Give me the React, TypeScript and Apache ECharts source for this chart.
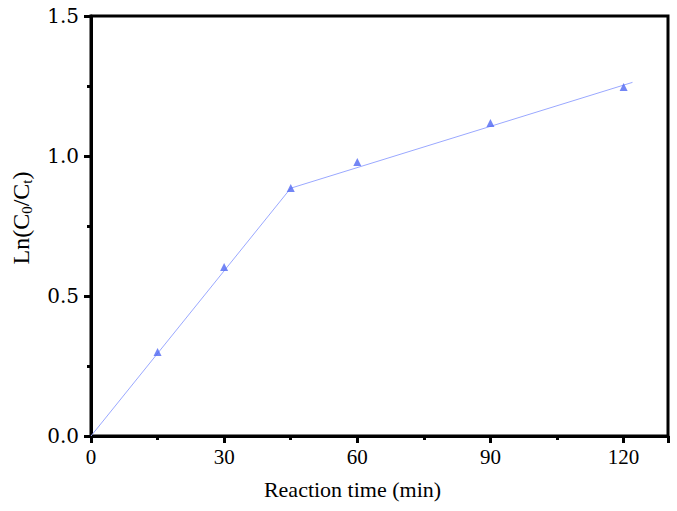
import React, { useEffect, useRef } from "react";
import * as echarts from "echarts";

const times = [15, 30, 45, 60, 90, 120];
const lnValues = [0.3, 0.604, 0.886, 0.979, 1.118, 1.246];
const fitStage1 = [
  [0, 0],
  [45, 0.885],
];
const fitStage2 = [
  [45, 0.885],
  [122, 1.263],
];
const xTicks = [0, 30, 60, 90, 120];
const yTicks = [0, 0.5, 1.0, 1.5];

const serif = "Liberation Serif";

export default function App() {
  const ref = useRef<HTMLDivElement>(null);
  useEffect(() => {
    document.body.style.margin = "0";
    const chart = echarts.init(ref.current!, null, { renderer: "svg" });
    chart.setOption({
      animation: false,
      backgroundColor: "#ffffff",
      grid: {
        left: 91,
        right: 9,
        top: 16,
        bottom: 75,
        show: true,
        borderColor: "#000",
        borderWidth: 3,
        containLabel: false,
      },
      xAxis: {
        type: "value",
        min: 0,
        max: 130,
        interval: 30,
        name: "{n|Reaction time (min)}",
        nameLocation: "middle",
        nameGap: 42,
        nameTextStyle: {
          fontFamily: serif,
          fontSize: 22,
          color: "#000",
          padding: [0, 54, 0, 0],
          rich: { n: { fontFamily: serif, fontSize: 22, color: "#000" } },
        },
        axisLine: { show: true, onZero: false, lineStyle: { color: "#000", width: 3 } },
        axisTick: { show: true, inside: false, length: 7, lineStyle: { color: "#000", width: 3 } },
        minorTick: { show: true, splitNumber: 2, length: 4, lineStyle: { color: "#000", width: 3 } },
        splitLine: { show: false },
        axisLabel: {
          fontFamily: serif,
          fontSize: 21,
          color: "#000",
          margin: 10,
          showMaxLabel: false,
          rich: { t: { fontFamily: serif, fontSize: 21, color: "#000" } },
          formatter: (v: number) => (xTicks.includes(v) ? `{t|${v}}` : ""),
        },
      },
      yAxis: {
        type: "value",
        min: 0,
        max: 1.5,
        interval: 0.5,
        name: "{m|Ln(C}{sub|0}{m|/C}{sub|t}{m|)}",
        nameLocation: "middle",
        nameGap: 57,
        nameRotate: 90,
        nameTextStyle: {
          fontFamily: serif,
          fontSize: 24,
          color: "#000",
          padding: [0, 0, 0, 16],
          rich: {
            m: { fontFamily: serif, fontSize: 24, color: "#000" },
            sub: { fontFamily: serif, fontSize: 15, color: "#000", padding: [11, 0, 0, 0] },
          },
        },
        axisLine: { show: true, onZero: false, lineStyle: { color: "#000", width: 3 } },
        axisTick: { show: true, inside: false, length: 7, lineStyle: { color: "#000", width: 3 } },
        minorTick: { show: true, splitNumber: 2, length: 4, lineStyle: { color: "#000", width: 3 } },
        splitLine: { show: false },
        axisLabel: {
          fontFamily: "DejaVu Serif",
          fontSize: 20,
          color: "#000",
          margin: 12,
          rich: { t: { fontFamily: "DejaVu Serif", fontSize: 20, color: "#000" } },
          formatter: (v: number) =>
            yTicks.some((t) => Math.abs(t - v) < 1e-9) ? `{t|${v.toFixed(1)}}` : "",
        },
      },
      series: [
        {
          type: "line",
          data: fitStage1,
          symbol: "none",
          lineStyle: { color: "#9aa8ff", width: 1 },
          z: 2,
        },
        {
          type: "line",
          data: fitStage2,
          symbol: "none",
          lineStyle: { color: "#9aa8ff", width: 1 },
          z: 2,
        },
        {
          type: "scatter",
          data: times.map((t, i) => [t, lnValues[i]]),
          symbol: "triangle",
          symbolSize: 8,
          itemStyle: { color: "#5068f2" },
          z: 3,
        },
      ],
    });
    return () => chart.dispose();
  }, []);
  return <div ref={ref} style={{ width: 677, height: 511 }} />;
}
